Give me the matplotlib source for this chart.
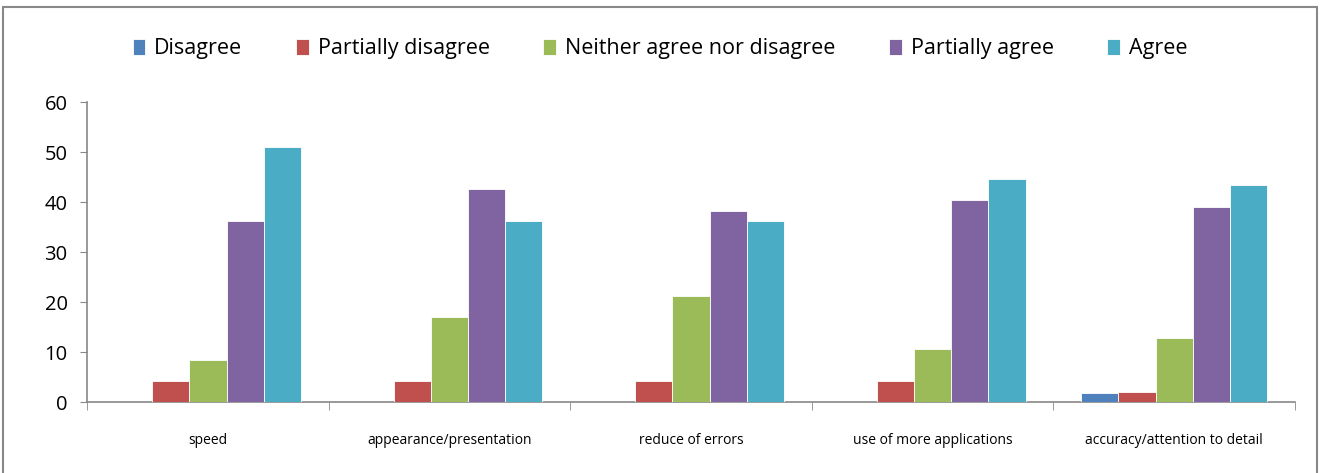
import numpy as np
import matplotlib
matplotlib.use('Agg')
import matplotlib.pyplot as plt
from matplotlib.patches import Rectangle

plt.rcParams['font.family'] = ['Open Sans', 'DejaVu Sans']

#---------data--------------------------------
categories = ['speed', 'appearance/presentation', 'reduce of errors',
              'use of more applications', 'accuracy/attention to detail']
series_names = ['Disagree', 'Partially disagree', 'Neither agree nor disagree',
                'Partially agree', 'Agree']
disagree = [0, 0, 0, 0, 1.9]
partially_disagree = [4.26, 4.26, 4.26, 4.26, 2.1]
neither = [8.51, 17.02, 21.28, 10.64, 12.9]
partially_agree = [36.17, 42.55, 38.30, 40.43, 39.1]
agree = [51.06, 36.17, 36.17, 44.68, 43.4]
colors = ['#4f81bd', '#c0504d', '#9bbb59', '#8064a2', '#4bacc6']

values = [disagree, partially_disagree, neither, partially_agree, agree]

fig = plt.figure(figsize=(13.2, 4.73), dpi=100)
ax = fig.add_axes([0.066, 0.150, 0.915, 0.634])

x = np.arange(len(categories))
w = 0.154
for i in range(len(series_names)):
    ax.bar(x + (i - 2) * w, values[i], w, color=colors[i], edgecolor='white',
           linewidth=0.6, label=series_names[i], zorder=3)

ax.set_xlim(-0.5, len(categories) - 0.5)
ax.set_ylim(0, 60)
ax.set_yticks(range(0, 61, 10))
ax.tick_params(axis='y', labelsize=14.5, length=5, color='#888888', pad=9)

# category labels centred, tick marks between categories
ax.set_xticks(x)
ax.set_xticklabels(categories, fontsize=10)
ax.tick_params(axis='x', which='major', length=0, pad=22)
ax.set_xticks(np.arange(-0.5, len(categories), 1), minor=True)
ax.tick_params(axis='x', which='minor', length=6, color='#888888', direction='out')

for s in ['top', 'right']:
    ax.spines[s].set_visible(False)
for s in ['left', 'bottom']:
    ax.spines[s].set_color('#888888')
    ax.spines[s].set_linewidth(1.2)

leg = fig.legend(loc='center', bbox_to_anchor=(0.5, 0.897), ncol=5, frameon=False,
                 fontsize=15.5, handlelength=0.6, handleheight=0.8,
                 handletextpad=0.4, columnspacing=2.5)

# outer chart border
fig.patches.append(Rectangle((0.002, -0.01), 0.996, 0.995, transform=fig.transFigure,
                             fill=False, edgecolor='#888888', linewidth=1.5))

plt.savefig('out.png', dpi=100)
